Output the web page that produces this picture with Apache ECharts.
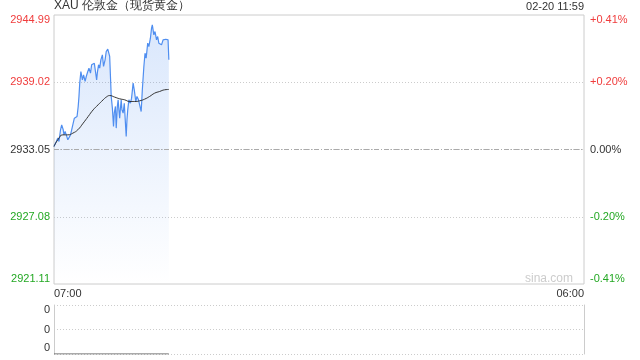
<!DOCTYPE html>
<html><head><meta charset="utf-8">
<script src="https://cdn.jsdelivr.net/npm/echarts@6/dist/echarts.min.js"></script>
<style>html,body{margin:0;padding:0;background:#fff}#c{width:640px;height:360px}</style>
</head><body><div id="c"></div>
<script>
// ---- data ----
const chartTitle = 'XAU 伦敦金（现货黄金）';
const stampText = '02-20 11:59';
const watermark = 'sina.com';
const prevClose = 2933.05;
const priceMin = 2921.11;
const priceMax = 2944.99;
const leftTickLabels = ['2921.11', '2927.08', '2933.05', '2939.02', '2944.99'];
const rightTickLabels = ['-0.41%', '-0.20%', '0.00%', '+0.20%', '+0.41%'];
const xTickLabels = ['07:00', '06:00'];
const sessionMinutes = 1380; // 07:00 -> 06:00 next day
const priceMinutes = [0,3,6,10,13,17,20,24,26,29,32,36,39,43,46,50,53,57,60,63,65,67,70,74,77,81,84,88,91,95,98,102,105,108,111,113,116,119,122,126,129,133,136,140,143,145,147,149,152,155,157,160,162,165,167,169,171,173,175,177,180,183,186,188,190,192,195,199,202,206,209,213,216,220,223,227,230,234,237,240,244,247,251,254,256,260,263,267,270,273,277,280,284,287,291,294,297,299];
const priceValues = [2933.32,2933.55,2933.76,2934.06,2933.76,2934.80,2935.24,2934.80,2934.35,2934.65,2934.35,2933.91,2934.06,2934.35,2934.50,2935.39,2935.83,2935.69,2935.98,2936.87,2937.76,2938.94,2939.97,2939.23,2939.68,2939.09,2939.53,2939.97,2940.27,2939.83,2940.57,2940.42,2940.71,2940.86,2939.23,2939.90,2940.57,2940.27,2941.01,2941.45,2940.42,2941.01,2941.75,2941.96,2942.04,2941.31,2939.53,2937.76,2936.72,2935.09,2936.30,2936.87,2934.95,2936.90,2937.46,2936.57,2935.83,2936.70,2937.46,2936.57,2936.28,2937.16,2935.39,2934.21,2935.69,2936.57,2937.46,2937.16,2937.61,2938.94,2938.35,2937.31,2937.76,2937.46,2937.02,2936.42,2938.35,2940.42,2941.60,2941.16,2942.49,2942.19,2942.93,2943.82,2944.12,2943.23,2943.52,2942.78,2943.08,2942.49,2942.64,2942.34,2942.78,2942.64,2942.84,2942.72,2942.78,2941.01];
const avgMinutes = [0,10,23,36,49,62,76,89,102,115,128,136,145,158,171,184,197,210,223,236,249,262,275,288,299];
const avgValues = [2933.32,2933.91,2934.35,2934.35,2934.50,2934.80,2935.39,2935.98,2936.57,2937.02,2937.46,2937.70,2937.84,2937.70,2937.55,2937.46,2937.31,2937.31,2937.37,2937.52,2937.76,2938.05,2938.20,2938.35,2938.38];
const volMinutes = [0, 299];
const volValues = [0, 0];
const volTickLabels = ['0', '0', '0'];

// ---- chart ----
const RED = '#f03c3c', GREEN = '#23a823', DARK = '#333';
const FONT = '"Liberation Sans", Arial, sans-serif';
const zip = (xs, ys) => xs.map((x, i) => [x, ys[i]]);

function sideRich() {
  const base = { fontSize: 11, fontFamily: FONT };
  return {
    uT: Object.assign({ color: RED, padding: [10, 0, 0, 0] }, base),
    u: Object.assign({ color: RED }, base),
    f: Object.assign({ color: DARK }, base),
    d: Object.assign({ color: GREEN }, base),
    dB: Object.assign({ color: GREEN, padding: [0, 0, 10, 0] }, base)
  };
}
function sideFormatter(labels) {
  return function (v) {
    const i = Math.round(v);
    const mid = (labels.length - 1) / 2;
    let k = i > mid ? 'u' : (i < mid ? 'd' : 'f');
    if (i === labels.length - 1) k = 'uT';
    if (i === 0) k = 'dB';
    return '{' + k + '|' + labels[i] + '}';
  };
}

const chart = echarts.init(document.getElementById('c'), null, { renderer: 'canvas' });
chart.setOption({
  animation: false,
  backgroundColor: '#fff',
  textStyle: { fontFamily: FONT },
  grid: [
    { left: 54, right: 56, top: 15, bottom: 76, show: true, borderColor: '#cccccc', borderWidth: 1, backgroundColor: 'transparent', containLabel: false, outerBoundsMode: 'none' },
    { left: 54, right: 56, top: 305, bottom: 6, show: false, containLabel: false, outerBoundsMode: 'none' }
  ],
  xAxis: [
    { type: 'value', gridIndex: 0, min: 0, max: sessionMinutes, interval: sessionMinutes,
      axisLine: { show: false }, axisTick: { show: false }, splitLine: { show: false },
      axisLabel: { margin: 4, fontSize: 11, color: DARK, fontFamily: FONT,
        alignMinLabel: 'left', alignMaxLabel: 'right',
        formatter: v => xTickLabels[Math.round(v / sessionMinutes)] } },
    { type: 'value', gridIndex: 1, min: 0, max: sessionMinutes, show: false }
  ],
  yAxis: [
    { type: 'value', gridIndex: 0, position: 'left', min: 0, max: leftTickLabels.length - 1, interval: 1,
      axisLine: { show: false }, axisTick: { show: false },
      splitLine: { show: true, showMinLine: false, showMaxLine: false, lineStyle: { color: '#cccccc', type: [1, 2], width: 1 } },
      axisLabel: { margin: 4, formatter: sideFormatter(leftTickLabels), rich: sideRich() } },
    { type: 'value', gridIndex: 0, position: 'right', min: 0, max: rightTickLabels.length - 1, interval: 1,
      axisLine: { show: false }, axisTick: { show: false }, splitLine: { show: false },
      axisLabel: { margin: 6, align: 'left', formatter: sideFormatter(rightTickLabels), rich: sideRich() } },
    { type: 'value', gridIndex: 0, min: priceMin, max: priceMax, show: false, splitLine: { show: false } },
    { type: 'value', gridIndex: 1, position: 'left', min: 0, max: volTickLabels.length - 1, interval: 1,
      axisLine: { show: true, lineStyle: { color: '#cccccc' } }, axisTick: { show: false },
      splitLine: { show: true, lineStyle: { color: '#cccccc', type: [1, 2], width: 1 } },
      axisLabel: { margin: 4, fontSize: 11, color: DARK,
        formatter: function (v) {
          const i = Math.round(v);
          const k = i === volTickLabels.length - 1 ? 'T' : (i === 0 ? 'B' : 'm');
          return '{' + k + '|' + volTickLabels[i] + '}';
        },
        rich: {
          T: { fontSize: 11, color: DARK, fontFamily: FONT, padding: [10, 0, 0, 0] },
          m: { fontSize: 11, color: DARK, fontFamily: FONT },
          B: { fontSize: 11, color: DARK, fontFamily: FONT, padding: [0, 0, 12, 0] }
        } } },
    { type: 'value', gridIndex: 1, position: 'right', min: 0, max: volTickLabels.length - 1,
      axisLine: { show: true, lineStyle: { color: '#cccccc' } }, axisTick: { show: false },
      axisLabel: { show: false }, splitLine: { show: false } }
  ],
  series: [
    { name: 'price', type: 'line', xAxisIndex: 0, yAxisIndex: 2, data: zip(priceMinutes, priceValues),
      showSymbol: false, symbol: 'none', smooth: false,
      lineStyle: { color: '#4f8ef0', width: 1.2 },
      areaStyle: { origin: 'start', color: new echarts.graphic.LinearGradient(0, 0, 0, 1, [
        { offset: 0, color: 'rgba(79,142,240,0.30)' },
        { offset: 1, color: 'rgba(79,142,240,0)' }
      ]) },
      markLine: { silent: true, symbol: 'none', label: { show: false },
        lineStyle: { color: '#aaaaaa', type: [5, 2, 1, 2], width: 1 },
        data: [{ yAxis: prevClose }] },
      z: 3 },
    { name: 'avg', type: 'line', xAxisIndex: 0, yAxisIndex: 2, data: zip(avgMinutes, avgValues),
      showSymbol: false, symbol: 'none', smooth: true,
      lineStyle: { color: '#333333', width: 1 }, z: 4 },
    { name: 'volume', type: 'line', xAxisIndex: 1, yAxisIndex: 3, data: zip(volMinutes, volValues),
      showSymbol: false, symbol: 'none', lineStyle: { color: '#555555', width: 1 }, z: 5 }
  ],
  graphic: [
    { type: 'text', left: 54, top: 0, style: { text: chartTitle, fontSize: 12, fill: DARK, fontFamily: FONT } },
    { type: 'text', right: 56, top: 1, style: { text: stampText, fontSize: 11, fill: DARK, fontFamily: FONT } },
    { type: 'text', right: 67, top: 273, style: { text: watermark, fontSize: 12, fill: '#cccccc', fontFamily: FONT } }
  ]
});
</script></body></html>
